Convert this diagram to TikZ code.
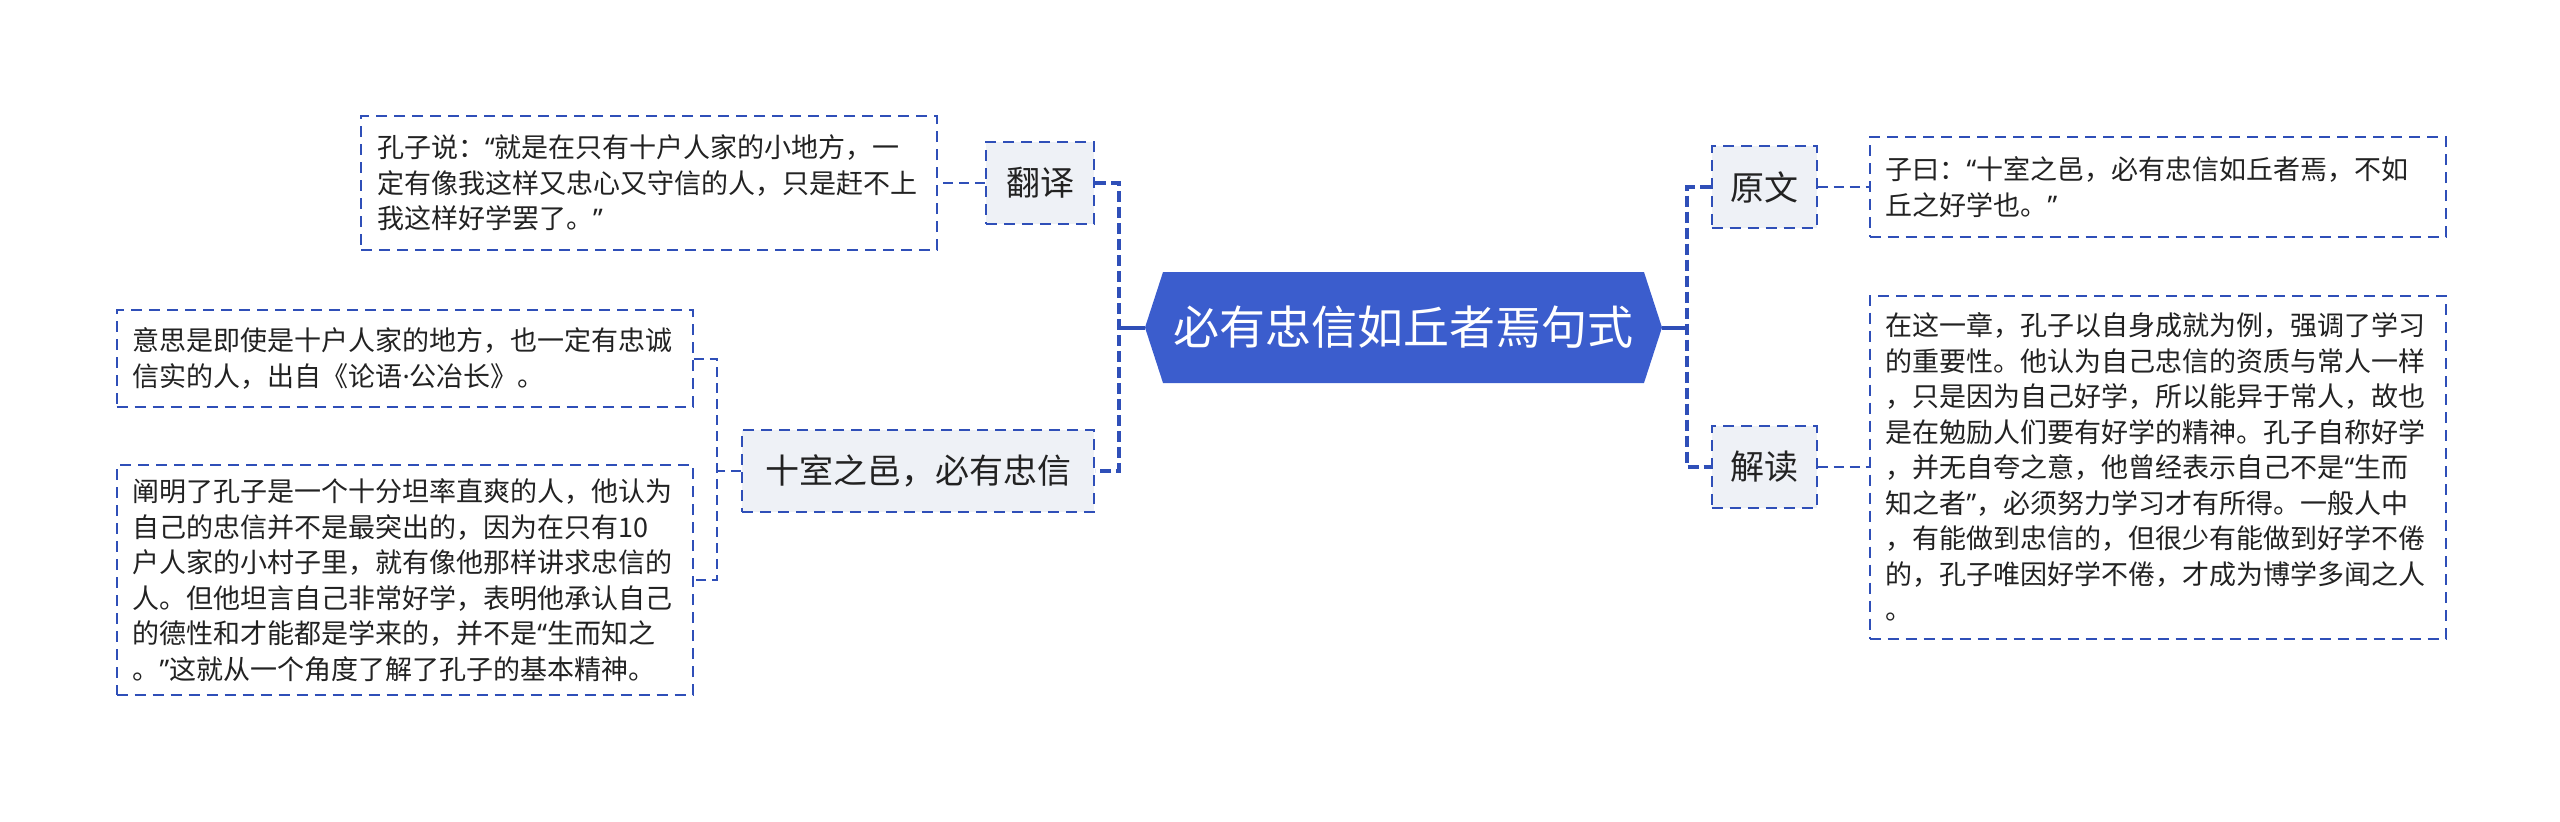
\documentclass[tikz,border=0pt]{standalone}
\usepackage{fontspec}
\setmainfont{Noto Sans CJK SC}
\newfontfamily\latinfont{Noto Sans}
\newcommand{\oq}{{\latinfont “}}
\newcommand{\cq}{{\latinfont ”}}
\newcommand{\mdot}{{\latinfont ·}}
\usepackage{tikz}
\usetikzlibrary{calc}
\usetikzlibrary{positioning}
\usetikzlibrary{shapes.symbols}
\definecolor{topicblue}{HTML}{3B5DCD}
\definecolor{edgeblue}{HTML}{2F4FB8}
\definecolor{subgray}{HTML}{EEF1F6}
\definecolor{inkgray}{HTML}{222222}

\begin{document}
\begin{tikzpicture}[x=0.5pt,y=-0.5pt,
    topic/.style={signal,signal to=west and east,signal pointer angle=144,
      fill=topicblue,text=white,minimum width=258.5pt,minimum height=55.5pt,
      inner sep=0pt,font=\fontsize{23}{27}\selectfont},
    sub/.style={draw=edgeblue,fill=subgray,line width=1pt,dash pattern=on 5.5pt off 3.5pt,
      minimum height=41pt,inner sep=0pt,text=inkgray,font=\fontsize{17}{20}\selectfont},
    leaf/.style={draw=edgeblue,fill=white,line width=1pt,dash pattern=on 5.5pt off 3.5pt,
      text width=272pt,inner xsep=8pt,inner ysep=0pt,align=left,text=inkgray,
      font=\fontsize{13.5}{17.75}\selectfont},
    mainline/.style={draw=edgeblue,line width=2pt,dash pattern=on 5.5pt off 2.5pt},
    leafline/.style={draw=edgeblue,line width=1pt,dash pattern=on 5pt off 3pt}]
  \useasboundingbox (0,0) rectangle (2560,821);
  \node[topic] (root) at (1403.5,327.5) {必有忠信如丘者焉句式};
  \node[sub,minimum width=54pt] (fy) at (1040,183) {翻译};
  \node[sub,minimum width=176pt] (sx) at (918,471) {十室之邑，必有忠信};
  \node[sub,minimum width=52.5pt] (yw) at (1764,187) {原文};
  \node[sub,minimum width=52.5pt] (jd) at (1764,467) {解读};
  \node[leaf,minimum height=67pt,left=23.5pt of fy] (txt-fy)
    {孔子说：\oq 就是在只有十户人家的小地方，一\\定有像我这样又忠心又守信的人，只是赶不上\\我这样好学罢了。\cq};
  \node[leaf,minimum height=50pt,right=25.5pt of yw] (txt-yw)
    {子曰：\oq 十室之邑，必有忠信如丘者焉，不如\\丘之好学也。\cq};
  \node[leaf,minimum height=171.5pt,right=25.5pt of jd] (txt-jd)
    {在这一章，孔子以自身成就为例，强调了学习\\的重要性。他认为自己忠信的资质与常人一样\\，只是因为自己好学，所以能异于常人，故也\\是在勉励人们要有好学的精神。孔子自称好学\\，并无自夸之意，他曾经表示自己不是\oq 生而\\知之者\cq ，必须努力学习才有所得。一般人中\\，有能做到忠信的，但很少有能做到好学不倦\\的，孔子唯因好学不倦，才成为博学多闻之人\\。};
  \node[leaf,minimum height=48.5pt] (txt-sxa) at (404.5,358.5)
    {意思是即使是十户人家的地方，也一定有忠诚\\信实的人，出自《论语\mdot 公冶长》。};
  \node[leaf,minimum height=115pt] (txt-sxb) at (404.5,580)
    {阐明了孔子是一个十分坦率直爽的人，他认为\\自己的忠信并不是最突出的，因为在只有10\\户人家的小村子里，就有像他那样讲求忠信的\\人。但他坦言自己非常好学，表明他承认自己\\的德性和才能都是学来的，并不是\oq 生而知之\\。\cq 这就从一个角度了解了孔子的基本精神。};
  \coordinate (lbus) at (1119,327.5);
  \coordinate (rbus) at (1687,327.5);
  \coordinate (sbus) at (717,471);
  \draw[edgeblue,line width=2pt] (root.west) -- (lbus);
  \draw[edgeblue,line width=2pt] (root.east) -- (rbus);
  \draw[mainline] (fy.east) -| (lbus) |- (sx.east);
  \draw[mainline] (yw.west) -| (rbus) |- (jd.west);
  \draw[leafline] (fy.west) -- (txt-fy.east);
  \foreach \q in {yw,jd}{
    \draw[leafline] (\q.east) -- (txt-\q.west);
  }
  \draw[leafline] (txt-sxa.east) -| (sbus) |- (txt-sxb.east);
  \draw[leafline] (sx.west) -- (sbus);
\end{tikzpicture}
\end{document}
